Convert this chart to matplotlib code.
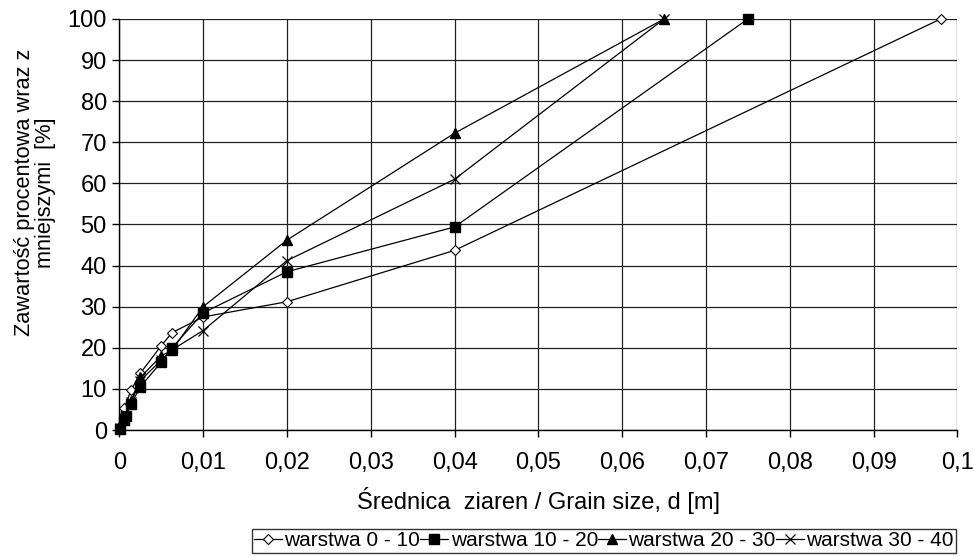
import matplotlib
matplotlib.use("Agg")
import matplotlib.pyplot as plt
from matplotlib.ticker import FixedLocator

plt.rcParams['font.family'] = ['Liberation Sans', 'DejaVu Sans']

# Grain size [m] and cumulative percentage for each layer
x_0_10 = [0.0001, 0.0006, 0.0014, 0.0025, 0.005, 0.0063, 0.01, 0.02, 0.04, 0.098]
y_0_10 = [1.0, 5.4, 9.7, 13.8, 20.5, 23.7, 27.5, 31.2, 43.7, 100]

x_10_20 = [0.0001, 0.0005, 0.0008, 0.0014, 0.0025, 0.005, 0.0063, 0.01, 0.02, 0.04, 0.075]
y_10_20 = [0.3, 2.5, 3.4, 6.3, 10.5, 16.5, 20.0, 28.5, 38.5, 49.4, 100]

x_20_30 = [0.0001, 0.0006, 0.0014, 0.0025, 0.005, 0.0063, 0.01, 0.02, 0.04, 0.065]
y_20_30 = [0.5, 3.5, 7.0, 12.8, 18.0, 19.5, 30.0, 46.2, 72.2, 100]

x_30_40 = [0.0001, 0.0006, 0.0014, 0.0025, 0.005, 0.0063, 0.01, 0.02, 0.04, 0.065]
y_30_40 = [0.5, 3.0, 6.8, 12.0, 17.0, 19.5, 24.2, 41.2, 61.0, 100]

labels = ['warstwa 0 - 10', 'warstwa 10 - 20', 'warstwa 20 - 30', 'warstwa 30 - 40']
x_ticks = [0, 0.01, 0.02, 0.03, 0.04, 0.05, 0.06, 0.07, 0.08, 0.09, 0.1]
x_tick_labels = ['0', '0,01', '0,02', '0,03', '0,04', '0,05', '0,06', '0,07', '0,08', '0,09', '0,1']
y_ticks = [0, 10, 20, 30, 40, 50, 60, 70, 80, 90, 100]

FS = 17

fig = plt.figure(figsize=(9.74, 5.57), dpi=100)
ax = fig.add_axes([0.1225, 0.228, 0.8605, 0.738])

ax.plot(x_0_10, y_0_10, color='black', lw=0.9, marker='D', ms=5.5,
        mfc='white', mec='black', mew=0.8, label=labels[0], zorder=3, clip_on=False)
ax.plot(x_10_20, y_10_20, color='black', lw=0.9, marker='s', ms=7,
        mfc='black', mec='black', label=labels[1], zorder=3, clip_on=False)
ax.plot(x_20_30, y_20_30, color='black', lw=0.9, marker='^', ms=6.5,
        mfc='black', mec='black', label=labels[2], zorder=3, clip_on=False)
ax.plot(x_30_40, y_30_40, color='black', lw=0.9, marker='x', ms=6.5,
        mec='black', mew=0.9, label=labels[3], zorder=3, clip_on=False)

ax.set_xlim(0, 0.1)
ax.set_ylim(0, 100)
ax.xaxis.set_major_locator(FixedLocator(x_ticks))
ax.set_xticklabels(x_tick_labels)
ax.yaxis.set_major_locator(FixedLocator(y_ticks))
ax.grid(True, color='#202020', lw=0.9)
ax.set_axisbelow(True)
for s in ['top', 'right']:
    ax.spines[s].set_visible(False)
for s in ['left', 'bottom']:
    ax.spines[s].set_color('black')
    ax.spines[s].set_linewidth(1.0)
ax.tick_params(axis='both', labelsize=FS, length=5, width=1, direction='out',
               color='black', pad=4)
ax.tick_params(axis='x', pad=11)

ax.set_xlabel('Średnica  ziaren / Grain size, d [m]', fontsize=FS, labelpad=9)
ax.set_ylabel('Zawartość procentowa wraz z\nmniejszymi  [%]', fontsize=15.7,
              linespacing=1.0)
ax.yaxis.set_label_coords(-0.076, 0.578)

leg = fig.legend(loc='lower left', bbox_to_anchor=(0.2585, 0.008), ncol=4,
                 fontsize=15.0, frameon=True, fancybox=False, edgecolor='black',
                 handlelength=1.35, handletextpad=0.1, columnspacing=0.0,
                 borderpad=0.12, borderaxespad=0)
leg.get_frame().set_linewidth(1.0)

fig.savefig('out.png', dpi=100)
